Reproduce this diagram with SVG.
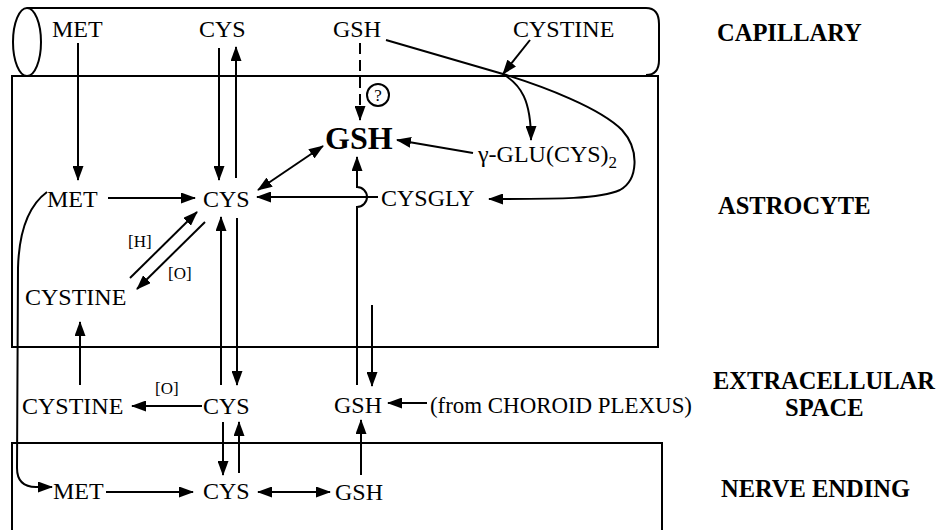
<svg xmlns="http://www.w3.org/2000/svg" width="938" height="530" viewBox="0 0 938 530">
  <style>
    .t { font-family: "Liberation Serif", "Times New Roman", serif; font-size: 24px; fill: #000; }
    .b { font-weight: bold; font-size: 24.5px; }
    .s { font-size: 17px; }
    .big { font-weight: bold; font-size: 32px; }
    .q { font-size: 17px; }
    .ln { stroke: #000; stroke-width: 2; fill: none; }
    .a { marker-end: url(#ah); }
    .ab { marker-start: url(#ah); marker-end: url(#ah); }
    .dash { stroke-dasharray: 11 6; }
  </style>
  <defs>
    <marker id="ah" viewBox="0 0 15 11" refX="14" refY="5.5" markerWidth="15" markerHeight="11" markerUnits="userSpaceOnUse" orient="auto-start-reverse">
      <path d="M0,0 L15,5.5 L0,11 Z" fill="#000"/>
    </marker>
  </defs>
  <rect width="938" height="530" fill="#fff"/>

  <!-- compartments -->
  <g id="capillary">
    <path class="ln" d="M27,8 H646 Q659,8 659,24 V60 Q659,75 646,75"/>
    <ellipse class="ln" cx="27" cy="42" rx="14" ry="34"/>
  </g>
  <g id="astrocyte">
    <rect class="ln" x="12" y="76" width="646" height="271"/>
  </g>
  <g id="nerve-ending">
    <path class="ln" d="M12,532 V443 H662 V532"/>
  </g>

  <!-- compartment labels -->
  <g id="labels">
    <text class="t b" x="717" y="41">CAPILLARY</text>
    <text class="t b" x="718" y="214">ASTROCYTE</text>
    <text class="t b" x="713" y="389">EXTRACELLULAR</text>
    <text class="t b" x="785" y="416">SPACE</text>
    <text class="t b" x="721" y="497">NERVE ENDING</text>
  </g>

  <!-- capillary metabolites -->
  <g id="cap-met"><text class="t" x="52" y="37">MET</text></g>
  <g id="cap-cys"><text class="t" x="199" y="37">CYS</text></g>
  <g id="cap-gsh"><text class="t" x="333" y="37">GSH</text></g>
  <g id="cap-cystine"><text class="t" x="513" y="37">CYSTINE</text></g>

  <!-- astrocyte metabolites -->
  <g id="ast-gsh"><text class="t big" x="325" y="149">GSH</text></g>
  <g id="ast-unknown">
    <circle class="ln" cx="378" cy="95" r="11" stroke-width="1.6"/>
    <text class="t q" x="378" y="101" text-anchor="middle">?</text>
  </g>
  <g id="ast-gglu"><text class="t" x="478" y="162">γ-GLU(CYS)<tspan font-size="17" dy="6">2</tspan></text></g>
  <g id="ast-cysgly"><text class="t" x="381" y="206">CYSGLY</text></g>
  <g id="ast-met"><text class="t" x="47" y="207">MET</text></g>
  <g id="ast-cys"><text class="t" x="203" y="207">CYS</text></g>
  <g id="ast-cystine"><text class="t" x="25" y="305">CYSTINE</text></g>

  <!-- extracellular metabolites -->
  <g id="ext-cystine"><text class="t" x="22" y="414">CYSTINE</text></g>
  <g id="ext-cys"><text class="t" x="203" y="414">CYS</text></g>
  <g id="ext-gsh"><text class="t" x="334" y="413">GSH</text></g>
  <g id="ext-choroid"><text class="t" x="430" y="413" textLength="262" lengthAdjust="spacingAndGlyphs">(from CHOROID PLEXUS)</text></g>

  <!-- nerve ending metabolites -->
  <g id="ne-met"><text class="t" x="53" y="499">MET</text></g>
  <g id="ne-cys"><text class="t" x="203" y="499">CYS</text></g>
  <g id="ne-gsh"><text class="t" x="335" y="500">GSH</text></g>

  <!-- reaction conditions -->
  <g id="conditions">
    <text class="t s" x="128" y="247">[H]</text>
    <text class="t s" x="168" y="279">[O]</text>
    <text class="t s" x="155" y="394">[O]</text>
  </g>

  <g id="connectors">
    <!-- capillary to astrocyte -->
    <line class="ln a" x1="78" y1="43" x2="78" y2="180"/>
    <line class="ln a" x1="219" y1="48" x2="219" y2="180"/>
    <line class="ln a" x1="236" y1="178" x2="236" y2="47"/>
    <line class="ln a dash" x1="360" y1="43" x2="360" y2="120"/>
    <line class="ln a" x1="530" y1="40" x2="503" y2="74"/>
    <path class="ln a" d="M503,74 C521,85 531,100 531,140"/>
    <path class="ln a" d="M386,40 L503,74 C545,87 600,108 622,130 C640,150 638,180 620,190 C600,199 560,199 489,199"/>

    <!-- astrocyte -->
    <line class="ln a" x1="473" y1="153" x2="397" y2="140"/>
    <line class="ln ab" x1="258" y1="190" x2="323" y2="146"/>
    <line class="ln a" x1="108" y1="198" x2="195" y2="198"/>
    <line class="ln a" x1="378" y1="197" x2="257" y2="197"/>
    <line class="ln a" x1="130" y1="278" x2="197" y2="212"/>
    <line class="ln a" x1="205" y1="222" x2="137" y2="289"/>
    <path class="ln a" d="M357,385 V207 A10,10 0 0 0 357,187 V157"/>
    <path class="ln a" d="M47,192 C28,206 19,232 18,268 L17,468 Q17,487 36,487 L52,487"/>

    <!-- astrocyte / extracellular exchange -->
    <line class="ln a" x1="221" y1="385" x2="221" y2="217"/>
    <line class="ln a" x1="237" y1="218" x2="237" y2="385"/>
    <line class="ln a" x1="372" y1="305" x2="372" y2="386"/>
    <line class="ln a" x1="80" y1="385" x2="80" y2="322"/>

    <!-- extracellular -->
    <line class="ln a" x1="202" y1="406" x2="132" y2="406"/>
    <line class="ln a" x1="427" y1="403" x2="388" y2="403"/>

    <!-- extracellular / nerve ending exchange -->
    <line class="ln a" x1="223" y1="422" x2="223" y2="475"/>
    <line class="ln a" x1="239" y1="473" x2="239" y2="422"/>
    <line class="ln a" x1="361" y1="475" x2="361" y2="420"/>

    <!-- nerve ending -->
    <line class="ln a" x1="106" y1="492" x2="193" y2="492"/>
    <line class="ln ab" x1="258" y1="492" x2="330" y2="492"/>
  </g>
</svg>
